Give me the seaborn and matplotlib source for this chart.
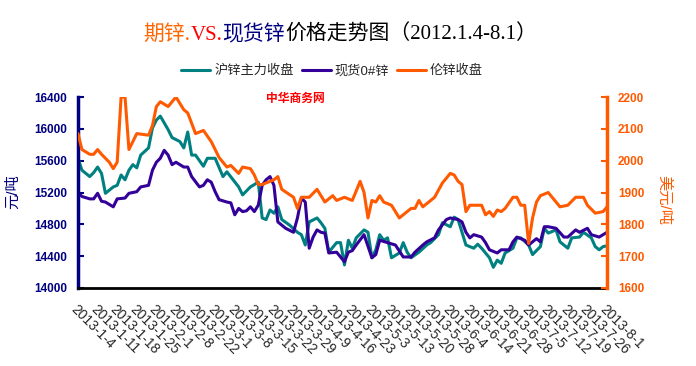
import pandas as pd
import matplotlib
matplotlib.use("Agg")
import matplotlib.pyplot as plt
from matplotlib.ticker import FixedLocator
import seaborn as sns

# x labels (one every 5 trading days)
date_labels = ["2013-1-4", "2013-1-11", "2013-1-18", "2013-1-25", "2013-2-1", "2013-2-8",
               "2013-2-22", "2013-3-1", "2013-3-8", "2013-3-15", "2013-3-22", "2013-3-29",
               "2013-4-9", "2013-4-16", "2013-4-23", "2013-5-3", "2013-5-13", "2013-5-20",
               "2013-5-28", "2013-6-4", "2013-6-14", "2013-6-21", "2013-6-28", "2013-7-5",
               "2013-7-12", "2013-7-19", "2013-7-26", "2013-8-1"]

# 沪锌主力收盘 (trading day index, yuan/t)
sh_days = [0, 1, 3, 4, 5, 6, 7, 9, 10, 11, 12, 13, 14, 15, 16, 18, 19, 20, 21, 23, 24, 26, 27, 28,
           29, 30, 32, 33, 35, 37, 38, 41, 42, 44, 46, 47, 48, 49, 50, 51, 52, 54, 56, 57, 58, 59,
           61, 62, 63, 64, 66, 67, 68, 69, 70, 71, 73, 74, 75, 76, 77, 78, 79, 80, 82, 83, 84, 85,
           87, 89, 90, 92, 93, 95, 96, 97, 98, 99, 101, 102, 103, 105, 106, 107, 108, 109, 111,
           112, 113, 115, 116, 118, 119, 120, 122, 123, 125, 126, 128, 129, 131, 132, 133, 134, 135]
sh_vals = [15630, 15480, 15400, 15450, 15520, 15440, 15190, 15270, 15290, 15420, 15360, 15480,
           15550, 15510, 15670, 15760, 16010, 16110, 16160, 15990, 15890, 15840, 15760, 15960,
           15670, 15670, 15530, 15630, 15630, 15400, 15460, 15270, 15170, 15270, 15330, 14880,
           14860, 14980, 14940, 15020, 14860, 14790, 14700, 14670, 14540, 14830, 14880, 14820,
           14750, 14450, 14570, 14570, 14290, 14600, 14500, 14630, 14730, 14700, 14380, 14480,
           14670, 14600, 14630, 14380, 14440, 14570, 14450, 14380, 14450, 14540, 14570, 14670,
           14820, 14770, 14890, 14860, 14700, 14540, 14500, 14550, 14500, 14380, 14260, 14350,
           14310, 14440, 14500, 14630, 14630, 14540, 14420, 14520, 14750, 14690, 14730, 14580,
           14500, 14630, 14640, 14700, 14630, 14520, 14480, 14520, 14530]

# 现货0#锌
spot_days = [0, 1, 3, 4, 5, 6, 7, 9, 10, 12, 13, 15, 16, 18, 19, 20, 21, 22, 23, 24, 25, 27, 28,
             29, 31, 32, 33, 34, 35, 36, 38, 39, 40, 41, 42, 43, 44, 45, 46, 47, 48, 49, 50, 51,
             53, 55, 56, 57, 58, 59, 60, 61, 62, 63, 64, 66, 68, 69, 70, 71, 73, 75, 76, 77, 79,
             81, 83, 85, 86, 88, 89, 91, 92, 94, 95, 97, 98, 99, 100, 101, 103, 104, 105, 107,
             108, 110, 111, 112, 114, 115, 117, 118, 119, 120, 122, 124, 125, 127, 128, 130, 131,
             133, 135]
spot_vals = [15200, 15150, 15120, 15120, 15190, 15090, 15080, 15020, 15120, 15130, 15190, 15210,
             15270, 15290, 15480, 15580, 15630, 15730, 15670, 15550, 15580, 15520, 15520, 15400,
             15270, 15290, 15360, 15330, 15210, 15110, 15080, 15070, 14920, 15000, 14960, 14970,
             15020, 14960, 15040, 15290, 15360, 15400, 15290, 14830, 14750, 14700, 14880, 15130,
             15080, 14500, 14640, 14730, 14700, 14690, 14440, 14450, 14330, 14450, 14470, 14540,
             14670, 14380, 14420, 14600, 14570, 14540, 14390, 14390, 14450, 14540, 14580, 14630,
             14730, 14860, 14880, 14860, 14830, 14700, 14630, 14670, 14640, 14570, 14480, 14440,
             14480, 14480, 14580, 14640, 14600, 14540, 14620, 14580, 14770, 14770, 14750, 14640,
             14640, 14730, 14700, 14750, 14670, 14640, 14700]

# 伦锌收盘 (USD/t)
lme_days = [0, 1, 3, 4, 5, 6, 8, 9, 10, 11, 12, 13, 14, 15, 18, 19, 20, 21, 23, 25, 27, 28, 30,
            32, 34, 36, 38, 39, 41, 42, 44, 45, 46, 47, 50, 51, 52, 55, 56, 57, 59, 61, 63, 65,
            66, 68, 70, 72, 73, 74, 75, 76, 77, 78, 80, 82, 85, 86, 87, 88, 91, 93, 95, 96, 97,
            98, 99, 100, 103, 104, 105, 106, 107, 108, 109, 111, 112, 113, 114, 115, 116, 117,
            118, 120, 121, 123, 125, 127, 129, 130, 132, 134, 135]
lme_vals = [2085, 2035, 2020, 2020, 2035, 2020, 1995, 1975, 1995, 2200, 2200, 2035, 2060, 2085,
            2080, 2110, 2170, 2185, 2170, 2200, 2160, 2150, 2085, 2095, 2060, 2010, 1980, 1985,
            1960, 1980, 1975, 1955, 1925, 1925, 1940, 1950, 1910, 1885, 1850, 1885, 1885, 1910,
            1870, 1890, 1875, 1885, 1875, 1935, 1900, 1820, 1875, 1870, 1890, 1870, 1860, 1820,
            1850, 1850, 1875, 1855, 1885, 1930, 1960, 1955, 1935, 1925, 1840, 1860, 1860, 1830,
            1840, 1825, 1845, 1840, 1850, 1885, 1885, 1860, 1860, 1740, 1820, 1870, 1890, 1900,
            1885, 1855, 1860, 1885, 1885, 1860, 1835, 1840, 1855]

sh_df = pd.DataFrame({"day": sh_days, "price": sh_vals})
spot_df = pd.DataFrame({"day": spot_days, "price": spot_vals})
lme_df = pd.DataFrame({"day": lme_days, "price": lme_vals})

sns.set_style("white")
plt.rcParams["font.family"] = ["Liberation Sans", "Noto Sans CJK SC"]

teal = "#008080"
purple = "#330099"
orange = "#FF5A00"
navy = "#000080"

fig = plt.figure(figsize=(6.96, 3.66), dpi=100)
ax = fig.add_axes([78 / 696, 1 - 288 / 366, 529 / 696, 191 / 366])
ax2 = ax.twinx()

sns.lineplot(data=sh_df, x="day", y="price", ax=ax, color=teal, lw=2.2, label="沪锌主力收盘", legend=False)
sns.lineplot(data=spot_df, x="day", y="price", ax=ax, color=purple, lw=2.2, label="现货0#锌", legend=False)
sns.lineplot(data=lme_df, x="day", y="price", ax=ax2, color=orange, lw=2.2, label="伦锌收盘", legend=False)

ax.set_xlim(0, 135)
ax.set_ylim(14000, 16400)
ax2.set_ylim(1600, 2200)
ax.set_yticks(range(14000, 16401, 400))
ax2.set_yticks(range(1600, 2201, 100))

ax.set_xticks(range(0, 136, 5))
ax.set_xticklabels(date_labels, rotation=-45, ha="left", va="top",
                   rotation_mode="anchor", fontsize=10)
ax.xaxis.set_minor_locator(FixedLocator(range(0, 136, 3)))
ax.tick_params(axis="x", which="major", length=0, pad=10)
ax.tick_params(axis="x", which="minor", direction="in", length=4, width=1.5, color="black")
ax.tick_params(axis="y", direction="in", length=4, width=1.5, color=navy, labelcolor=navy,
               labelsize=8.5, pad=8)
ax2.tick_params(axis="y", direction="in", length=4, width=1.5, color=orange, labelcolor=orange,
                labelsize=8.5, pad=8)
for lab in ax.get_yticklabels():
    lab.set_fontweight("bold")
for lab in ax2.get_yticklabels():
    lab.set_fontweight("bold")

ax.set_xlabel("")
ax.set_ylabel("")
ax2.set_ylabel("")
ax.grid(False)
ax2.grid(False)

for a in (ax, ax2):
    a.spines["top"].set_visible(False)
ax.spines["right"].set_visible(False)
ax2.spines["left"].set_visible(False)
ax2.spines["bottom"].set_visible(False)
ax.spines["left"].set_color(navy)
ax.spines["left"].set_linewidth(2.5)
ax.spines["bottom"].set_color("black")
ax.spines["bottom"].set_linewidth(2)
ax2.spines["right"].set_color(orange)
ax2.spines["right"].set_linewidth(2.5)

fig.text(13 / 696, 1 - 192 / 366, "元/吨", rotation=90, color=navy, fontsize=11,
         ha="center", va="center")
fig.text(664 / 696, 1 - 200 / 366, "美元/吨", rotation=-90, color=orange, fontsize=11,
         ha="center", va="center")

# watermark
ax.text(0.41, 0.99, "中华商务网", transform=ax.transAxes, color="red", fontsize=8.5,
        fontweight="bold", ha="center", va="center")

# legend
handles = ax.get_lines()[:2] + ax2.get_lines()[:1]
fig.legend(handles, [h.get_label() for h in handles], loc="center",
           bbox_to_anchor=(332 / 696, 1 - 71 / 366), ncol=3, frameon=False,
           fontsize=9.5, handlelength=2.2, handletextpad=0.3, columnspacing=0.6)

# multicolour title
parts = [("期锌.", "#FF6600"), ("VS.", "#FF0000"), ("现货锌", navy),
         ("价格走势图（2012.1.4-8.1）", "black")]
fig.canvas.draw()
renderer = fig.canvas.get_renderer()
pieces = []
for s, c in parts:
    t = fig.text(0, 1 - 35 / 366, s, color=c, fontsize=15, va="center",
                 family=["Liberation Serif", "Noto Sans CJK SC"])
    pieces.append((t, t.get_window_extent(renderer).width))
total = sum(w for _, w in pieces)
x0 = 340 - total / 2
for t, w in pieces:
    t.set_x(x0 / fig.bbox.width)
    x0 += w

fig.savefig("out.png", dpi=100)
